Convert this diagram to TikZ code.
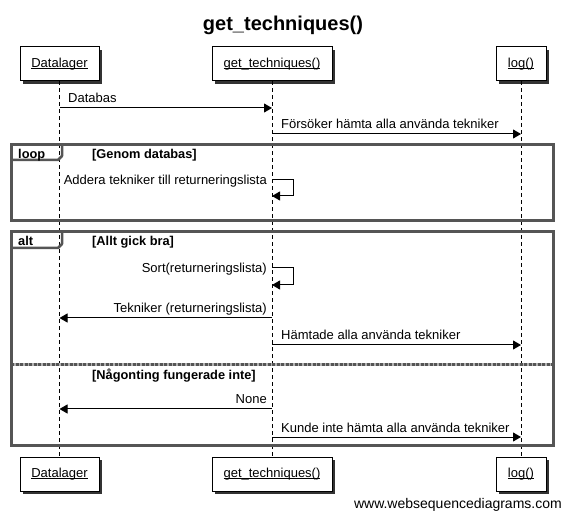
\documentclass[tikz,border=0pt]{standalone}
\usepackage{fontspec}
\setmainfont{Liberation Sans}
\usetikzlibrary{arrows.meta,shadows}
\definecolor{framegray}{RGB}{85,85,85}
\newlength\myulw
\newcommand\myul[1]{\settowidth\myulw{#1}\rlap{\rule[-1.6pt]{\myulw}{0.9pt}}#1}
\begin{document}
\begin{tikzpicture}[x=1pt,y=-1pt,
  part/.style={draw, line width=1pt, fill=white, minimum height=34pt, inner sep=0pt,
    font=\fontsize{13}{15}\selectfont,
    general shadow={fill=black!80, shadow xshift=3pt, shadow yshift=-3pt}},
  life/.style={line width=0.8pt, dash pattern=on 4pt off 3pt},
  sdframe/.style={draw=framegray, line width=3pt},
  tab/.style={draw=framegray, line width=2.5pt, line join=round},
  msg/.style={line width=1pt, -{Triangle[length=8pt,width=9pt]}},
  mtext/.style={font=\fontsize{13}{15}\selectfont, inner sep=0pt},
  guard/.style={font=\bfseries\fontsize{12.8}{15}\selectfont, inner sep=0pt, anchor=base west},
]
\useasboundingbox (0,0) rectangle (563,513);
\fill[white] (0,0) rectangle (563,513);

\node[font=\bfseries\fontsize{20}{24}\selectfont, inner sep=0pt] (title) at (283,25) {get\_techniques()};

% participants
\node[part, minimum width=79pt] (dtop) at (59.5,64) {\myul{Datalager}};
\node[part, minimum width=120pt] (gtop) at (272,64) {\myul{get\_techniques()}};
\node[part, minimum width=50pt] (ltop) at (521,64) {\myul{log()}};
\node[part, minimum width=79pt] (dbot) at (59.5,474) {\myul{Datalager}};
\node[part, minimum width=120pt] (gbot) at (272,474) {\myul{get\_techniques()}};
\node[part, minimum width=50pt] (lbot) at (521,474) {\myul{log()}};

% lifelines
\draw[life] (dtop.south) -- (dbot.north);
\draw[life] (gtop.south) -- (gbot.north);
\draw[life] (ltop.south) -- (lbot.north);

% loop frame
\draw[sdframe] (11,145) rectangle (553,221);
\draw[tab] (11,160) -- (58,160) -- (62,156) -- (62,145);
\node[guard] (looplbl) at (18,159) {loop};
\node[guard] (g1) at (92,159) {[Genom databas]};

% alt frame
\draw[sdframe] (11,232) rectangle (553,445);
\draw[tab] (11,248) -- (58,248) -- (62,244) -- (62,232);
\node[guard] (altlbl) at (18,246) {alt};
\node[guard] (g2) at (92,246) {[Allt gick bra]};
\draw[framegray!45, line width=3pt] (11,365) -- (553,365);
\draw[framegray, line width=3pt, dash pattern=on 3pt off 1.5pt] (11,365) -- (553,365);
\node[guard] (g3) at (92,380) {[Någonting fungerade inte]};

% message levels
\coordinate (y1) at (0,108);
\coordinate (y2) at (0,134);
\coordinate (y3a) at (0,180);
\coordinate (y3b) at (0,196);
\coordinate (y4a) at (0,268);
\coordinate (y4b) at (0,285);
\coordinate (y5) at (0,318);
\coordinate (y6) at (0,345);
\coordinate (y7) at (0,409);
\coordinate (y8) at (0,437);

% messages
\draw[msg] (dtop |- y1) -- (gtop |- y1);
\node[mtext, anchor=base west] (t1) at (68,103) {Databas};

\draw[msg] (gtop |- y2) -- (ltop |- y2);
\node[mtext, anchor=base west] (t2) at (281,129) {Försöker hämta alla använda tekniker};

\draw[msg] (gtop |- y3a) -- ++(21,0) |- (gtop |- y3b);
\node[mtext, anchor=base east] (t3) at (267,185) {Addera tekniker till returneringslista};

\draw[msg] (gtop |- y4a) -- ++(21,0) |- (gtop |- y4b);
\node[mtext, anchor=base east] (t4) at (267,273) {Sort(returneringslista)};

\draw[msg] (gtop |- y5) -- (dtop |- y5);
\node[mtext, anchor=base east] (t5) at (267,313) {Tekniker (returneringslista)};

\draw[msg] (gtop |- y6) -- (ltop |- y6);
\node[mtext, anchor=base west] (t6) at (281,340) {Hämtade alla använda tekniker};

\draw[msg] (gtop |- y7) -- (dtop |- y7);
\node[mtext, anchor=base east] (t7) at (267,404) {None};

\draw[msg] (gtop |- y8) -- (ltop |- y8);
\node[mtext, anchor=base west] (t8) at (281,432) {Kunde inte hämta alla använda tekniker};

\node[font=\fontsize{14}{16}\selectfont, anchor=east, inner sep=0pt] (web) at (562,505) {www.websequencediagrams.com};
\end{tikzpicture}
\end{document}
